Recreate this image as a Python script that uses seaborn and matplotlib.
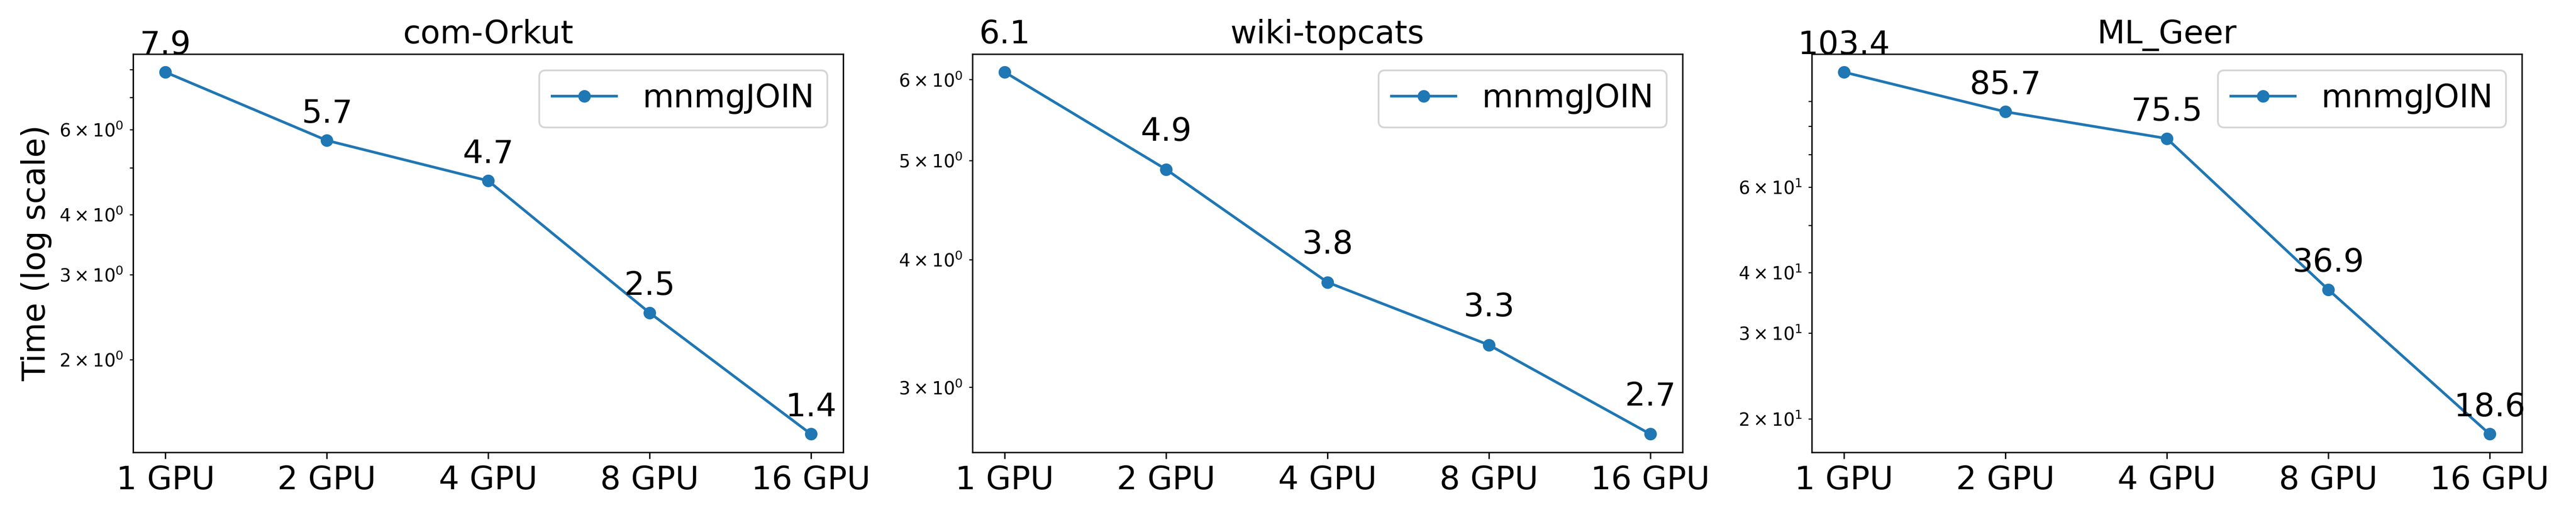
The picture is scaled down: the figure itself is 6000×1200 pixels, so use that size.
import matplotlib
matplotlib.use("Agg")
import matplotlib.pyplot as plt
import matplotlib.ticker as mticker
import pandas as pd
import seaborn as sns

gpus = ["1 GPU", "2 GPU", "4 GPU", "8 GPU", "16 GPU"]
datasets = ["com-Orkut", "wiki-topcats", "ML_Geer"]
orkut_time = [7.9, 5.7, 4.7, 2.5, 1.4]
topcats_time = [6.1, 4.9, 3.8, 3.3, 2.7]
geer_time = [103.4, 85.7, 75.5, 36.9, 18.6]
series_label = "mnmgJOIN"

# vertical gap (points) between a marker and its value label, per panel
label_offsets = [10, 16, 10]

fig, axes = plt.subplots(1, 3, figsize=(20, 4), dpi=300)
fig.subplots_adjust(left=0.0517, right=0.979, bottom=0.122, top=0.895, wspace=0.182)

for ax, name, times, off in zip(axes, datasets, [orkut_time, topcats_time, geer_time], label_offsets):
    df = pd.DataFrame({"GPUs": gpus, "Time": times})
    sns.lineplot(data=df, x="GPUs", y="Time", marker="o", color="#1f77b4",
                 markeredgecolor="#1f77b4", markeredgewidth=1, markersize=6,
                 linewidth=1.5, sort=False, label=series_label, ax=ax)
    ax.set_yscale("log")
    # only the minor (2x, 3x, ...) ticks are shown, no decade tick
    ax.yaxis.set_major_locator(mticker.NullLocator())
    for g, t in zip(gpus, times):
        ax.annotate(f"{t:.1f}", (g, t), xytext=(0, off), textcoords="offset points",
                    ha="center", fontsize=18)
    ax.set_title(name, fontsize=18)
    ax.set_xlabel("")
    ax.set_ylabel("")
    ax.tick_params(axis="x", labelsize=18)
    ax.legend(loc="upper right", fontsize=18)

axes[0].set_ylabel("Time (log scale)", fontsize=18)

fig.savefig("out.png", dpi=300)
plt.close(fig)
